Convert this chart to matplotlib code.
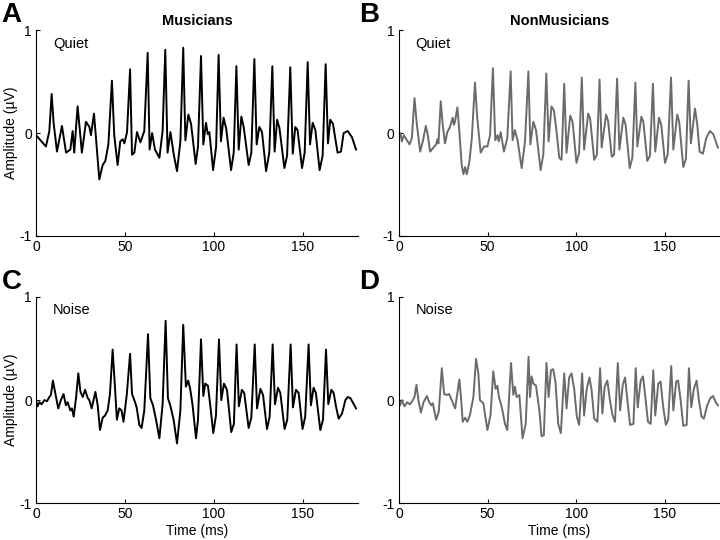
import numpy as np
import matplotlib
matplotlib.use('Agg')
import matplotlib.pyplot as plt

plt.rcParams['font.family'] = ['Liberation Sans', 'DejaVu Sans']
plt.rcParams['axes.unicode_minus'] = False

# Musicians, quiet (panel A)
t_mus_quiet = [0, 5.6, 7.5, 8.8, 9.9, 11.8, 14.6, 16.9, 19.3, 20.6,
               21.5, 23.4, 24.7, 25.8, 28.1, 30.0, 30.9, 32.6, 33.7, 35.6,
               37.5, 39.0, 40.7, 42.7, 44.0, 45.9, 47.4, 48.7, 49.7, 51.2,
               52.9, 54.0, 55.3, 56.8, 58.7, 60.9, 62.8, 63.9, 65.3, 66.9,
               69.4, 71.2, 72.7, 74.0, 75.6, 77.5, 79.3, 81.2, 82.8, 84.0,
               85.7, 87.2, 89.8, 91.1, 92.8, 94.1, 95.6, 96.6, 97.5, 99.6,
               101.3, 102.7, 104.0, 105.5, 107.0, 109.7, 111.2, 112.7, 114.0, 115.5,
               116.8, 119.6, 121.1, 122.8, 124.1, 125.6, 127.1, 129.4, 131.2, 132.9,
               134.2, 135.6, 136.9, 139.7, 141.2, 143.0, 144.4, 145.8, 147.1, 149.6,
               151.1, 152.8, 154.1, 155.6, 157.1, 159.5, 161.2, 162.9, 164.2, 165.5,
               167.0, 168.3, 169.6, 171.5, 173.0, 175.3, 177.7, 180.0]
a_mus_quiet = [-0.02, -0.13, 0.02, 0.38, 0.10, -0.18, 0.07, -0.19, -0.16, 0.02,
               -0.19, 0.26, 0.02, -0.19, 0.11, 0.06, -0.02, 0.19, -0.04, -0.45,
               -0.31, -0.27, -0.11, 0.51, -0.02, -0.31, -0.08, -0.06, -0.10, 0.01,
               0.62, -0.21, -0.19, 0.01, -0.09, 0.02, 0.78, -0.16, 0.00, -0.16,
               -0.24, 0.02, 0.81, -0.19, 0.01, -0.21, -0.37, -0.08, 0.83, -0.07,
               0.18, 0.09, -0.30, -0.13, 0.75, -0.11, 0.10, -0.01, 0.01, -0.36,
               -0.13, 0.76, -0.08, 0.15, 0.04, -0.36, -0.19, 0.65, -0.16, 0.16,
               0.06, -0.31, -0.19, 0.72, -0.11, 0.06, 0.01, -0.37, -0.19, 0.65,
               -0.18, 0.13, 0.05, -0.34, -0.22, 0.64, -0.20, 0.06, 0.03, -0.34,
               -0.19, 0.69, -0.11, 0.10, 0.03, -0.36, -0.22, 0.67, -0.10, 0.13,
               0.09, -0.05, -0.19, -0.18, 0.00, 0.02, -0.04, -0.16]

# NonMusicians, quiet (panel B)
t_non_quiet = [0, 0.9, 1.7, 2.8, 6.0, 7.3, 8.8, 10.1, 12.0, 13.5,
               15.2, 16.3, 17.6, 19.5, 21.0, 21.7, 22.3, 23.6, 24.7, 26.0,
               27.3, 28.8, 30.3, 31.0, 31.6, 33.0, 34.1, 35.4, 36.4, 37.3,
               38.3, 39.8, 41.1, 42.9, 44.2, 46.1, 48.0, 49.9, 51.4, 53.0,
               54.3, 55.6, 56.3, 57.4, 59.2, 61.1, 63.0, 64.1, 65.4, 66.9,
               69.2, 71.1, 73.0, 74.1, 75.8, 77.3, 79.9, 81.4, 83.1, 84.4,
               86.0, 87.4, 88.9, 90.4, 91.7, 93.2, 94.5, 96.6, 97.9, 100.1,
               101.6, 103.1, 104.4, 106.7, 107.8, 110.1, 111.6, 113.1, 114.3, 116.8,
               117.9, 120.0, 121.3, 123.0, 124.3, 126.5, 127.8, 130.1, 131.6, 133.3,
               134.4, 136.7, 137.8, 140.0, 141.5, 143.2, 144.5, 146.6, 147.9, 150.0,
               151.5, 153.4, 154.7, 156.9, 158.0, 160.3, 161.8, 163.3, 164.6, 166.9,
               168.2, 169.5, 171.4, 173.2, 175.3, 177.2, 179.8]
a_non_quiet = [-0.02, 0.00, -0.08, -0.02, -0.11, -0.05, 0.34, 0.09, -0.18, -0.08,
               0.07, -0.02, -0.18, -0.14, -0.11, -0.06, -0.10, 0.31, 0.08, -0.10,
               0.01, 0.06, 0.15, 0.08, 0.11, 0.25, 0.01, -0.31, -0.40, -0.33,
               -0.40, -0.27, -0.05, 0.49, 0.14, -0.19, -0.13, -0.13, -0.02, 0.63,
               -0.07, -0.02, -0.08, 0.01, -0.18, -0.05, 0.60, -0.07, 0.03, -0.07,
               -0.34, -0.08, 0.60, -0.11, 0.11, 0.03, -0.36, -0.21, 0.58, -0.08,
               0.26, 0.22, 0.01, -0.24, -0.26, 0.48, -0.19, 0.17, 0.11, -0.29,
               -0.19, 0.54, -0.16, 0.19, 0.14, -0.26, -0.21, 0.52, -0.14, 0.18,
               0.12, -0.23, -0.21, 0.53, -0.16, 0.15, 0.08, -0.34, -0.24, 0.49,
               -0.13, 0.16, 0.11, -0.27, -0.22, 0.48, -0.18, 0.15, 0.08, -0.29,
               -0.21, 0.54, -0.16, 0.18, 0.11, -0.33, -0.25, 0.51, -0.10, 0.24,
               0.08, -0.18, -0.20, -0.05, 0.02, -0.01, -0.14]

# Musicians, noise (panel C)
t_mus_noise = [0, 0.9, 1.9, 3.2, 4.7, 6.2, 7.5, 8.4, 9.5, 10.7,
               12.5, 14.0, 15.5, 16.8, 17.8, 19.3, 20.2, 21.2, 22.5, 23.8,
               25.0, 26.3, 27.6, 29.1, 30.0, 31.3, 33.4, 34.7, 36.0, 37.5,
               38.8, 40.3, 41.6, 43.1, 44.4, 45.5, 46.8, 48.1, 49.2, 51.1,
               52.9, 54.0, 55.3, 56.6, 58.1, 59.4, 60.9, 63.0, 64.3, 65.8,
               67.5, 69.4, 71.2, 72.9, 74.2, 75.5, 77.4, 79.3, 81.2, 82.8,
               84.3, 85.6, 86.7, 88.0, 90.0, 91.1, 92.8, 94.1, 95.2, 96.7,
               98.0, 99.7, 101.2, 102.9, 104.2, 105.7, 107.4, 109.8, 111.3, 112.8,
               114.1, 115.8, 117.1, 119.6, 121.1, 123.0, 124.3, 126.2, 127.7, 129.9,
               131.4, 133.1, 134.4, 136.1, 137.4, 139.8, 141.3, 143.2, 144.5, 146.2,
               147.7, 149.9, 151.4, 153.3, 154.6, 156.1, 157.4, 159.9, 161.4, 163.1,
               164.4, 166.1, 167.4, 168.7, 170.2, 172.1, 174.0, 175.3, 176.8, 178.1, 180.0]
a_mus_noise = [0.00, -0.06, -0.02, -0.04, 0.00, -0.01, 0.03, 0.05, 0.19, 0.08,
               -0.08, 0.00, 0.06, -0.05, -0.02, -0.10, -0.08, -0.16, 0.02, 0.26,
               0.08, 0.03, 0.10, 0.02, 0.00, -0.08, 0.08, -0.05, -0.29, -0.17,
               -0.15, -0.10, 0.06, 0.49, 0.13, -0.19, -0.08, -0.10, -0.21, 0.06,
               0.45, 0.06, 0.00, -0.07, -0.24, -0.27, -0.10, 0.64, 0.02, -0.05,
               -0.19, -0.37, -0.04, 0.77, 0.02, -0.05, -0.19, -0.42, -0.10, 0.73,
               0.13, 0.19, 0.11, -0.04, -0.37, -0.19, 0.59, 0.04, 0.16, 0.14,
               -0.05, -0.32, -0.15, 0.59, 0.00, 0.16, 0.10, -0.31, -0.23, 0.54,
               -0.06, 0.10, 0.07, -0.27, -0.17, 0.54, -0.08, 0.11, 0.05, -0.28,
               -0.16, 0.54, -0.04, 0.12, 0.07, -0.28, -0.19, 0.54, -0.07, 0.10,
               0.07, -0.28, -0.16, 0.54, -0.05, 0.12, 0.07, -0.29, -0.19, 0.49,
               -0.04, 0.10, 0.07, -0.06, -0.18, -0.13, 0.00, 0.03, 0.02, -0.02, -0.08]

# NonMusicians, noise (panel D)
t_non_noise = [0, 0.8, 1.7, 3.2, 4.7, 6.2, 7.5, 8.8, 9.9, 11.0,
               12.4, 13.9, 15.8, 17.1, 18.2, 19.1, 21.0, 22.5, 24.2, 25.5,
               27.0, 28.3, 29.8, 31.7, 34.1, 35.0, 36.0, 37.3, 38.6, 40.1,
               42.0, 43.5, 44.8, 45.7, 47.6, 49.9, 51.7, 53.2, 54.5, 55.5,
               56.4, 57.9, 59.8, 61.1, 63.2, 64.5, 65.4, 66.4, 67.9, 69.7,
               71.5, 73.1, 73.9, 74.8, 75.8, 77.3, 79.2, 80.4, 81.7, 83.2,
               84.4, 85.7, 87.0, 88.3, 89.8, 91.3, 93.2, 94.5, 96.0, 97.3,
               98.8, 100.3, 101.6, 103.3, 104.4, 105.9, 107.4, 108.6, 110.1, 111.9,
               113.4, 114.7, 116.0, 117.5, 118.8, 120.3, 121.8, 123.4, 124.7, 126.2,
               127.5, 128.8, 130.3, 132.2, 133.5, 134.6, 136.3, 137.6, 139.1, 140.4,
               141.9, 143.4, 144.5, 146.2, 147.5, 149.0, 150.5, 151.8, 153.5, 154.7,
               156.3, 157.4, 158.8, 160.3, 162.2, 163.5, 164.8, 166.3, 167.8, 169.1,
               170.6, 171.9, 173.8, 175.6, 177.1, 178.6, 179.8]
a_non_noise = [0.00, -0.05, 0.00, -0.06, -0.02, -0.04, -0.01, 0.03, 0.15, 0.00,
               -0.12, -0.02, 0.04, -0.02, -0.05, -0.03, -0.19, -0.11, 0.31, 0.06,
               0.05, 0.06, 0.00, -0.08, 0.20, 0.03, -0.21, -0.17, -0.21, -0.14,
               0.03, 0.40, 0.26, 0.00, -0.03, -0.29, -0.14, 0.28, 0.11, 0.14,
               0.03, -0.06, -0.23, -0.29, 0.36, 0.05, 0.13, 0.03, 0.05, -0.37,
               -0.23, 0.42, 0.03, 0.23, 0.16, 0.14, -0.10, -0.35, -0.34, 0.36,
               0.03, 0.29, 0.30, 0.17, -0.23, -0.32, 0.26, -0.08, 0.22, 0.26,
               0.11, -0.16, -0.24, 0.26, -0.15, 0.11, 0.22, 0.10, -0.18, -0.21,
               0.31, -0.13, 0.13, 0.19, 0.02, -0.14, -0.21, 0.36, -0.10, 0.15,
               0.22, 0.00, -0.24, -0.23, 0.31, -0.07, 0.19, 0.23, 0.00, -0.21,
               -0.23, 0.29, -0.15, 0.16, 0.18, -0.07, -0.24, -0.19, 0.33, -0.10,
               0.18, 0.19, 0.00, -0.25, -0.24, 0.31, -0.07, 0.11, 0.19, 0.00,
               -0.16, -0.18, -0.05, 0.02, 0.04, -0.02, -0.05]

x_ticks = [0, 50, 100, 150]
y_ticks = [-1, 0, 1]

fig = plt.figure(figsize=(7.2, 5.4), dpi=100)

# axes positions in figure fractions [left, bottom, width, height]
panels = [
    ('A', [0.050, 0.563, 0.447, 0.381], t_mus_quiet, a_mus_quiet, 'black', 'Musicians', 'Quiet'),
    ('B', [0.554, 0.563, 0.446, 0.381], t_non_quiet, a_non_quiet, '#6b6b6b', 'NonMusicians', 'Quiet'),
    ('C', [0.050, 0.068, 0.447, 0.382], t_mus_noise, a_mus_noise, 'black', None, 'Noise'),
    ('D', [0.554, 0.068, 0.446, 0.382], t_non_noise, a_non_noise, '#6b6b6b', None, 'Noise'),
]

for letter, pos, t, a, col, title, cond in panels:
    ax = fig.add_axes(pos)
    ax.plot(t, a, color=col, linewidth=1.4, solid_joinstyle='round')
    ax.set_xlim(0, 181)
    ax.set_ylim(-1, 1)
    ax.set_xticks(x_ticks)
    ax.set_yticks(y_ticks)
    ax.spines['top'].set_visible(False)
    ax.spines['right'].set_visible(False)
    ax.tick_params(direction='in', length=3, labelsize=10, pad=3)
    ax.text(9.5, 0.87, cond, fontsize=10.5, va='center')
    if title:
        ax.set_title(title, fontsize=10.5, fontweight='bold', pad=4)
    if letter in ('A', 'C'):
        ax.set_ylabel('Amplitude (µV)', fontsize=10, labelpad=1)
    if letter in ('C', 'D'):
        ax.set_xlabel('Time (ms)', fontsize=10, labelpad=2)
    fig.text(pos[0] - 0.048 if letter in ('A', 'C') else pos[0] - 0.055,
             pos[1] + pos[3] + 0.028, letter, fontsize=20, fontweight='bold',
             va='center', ha='left')

fig.savefig('out.png', dpi=100)
